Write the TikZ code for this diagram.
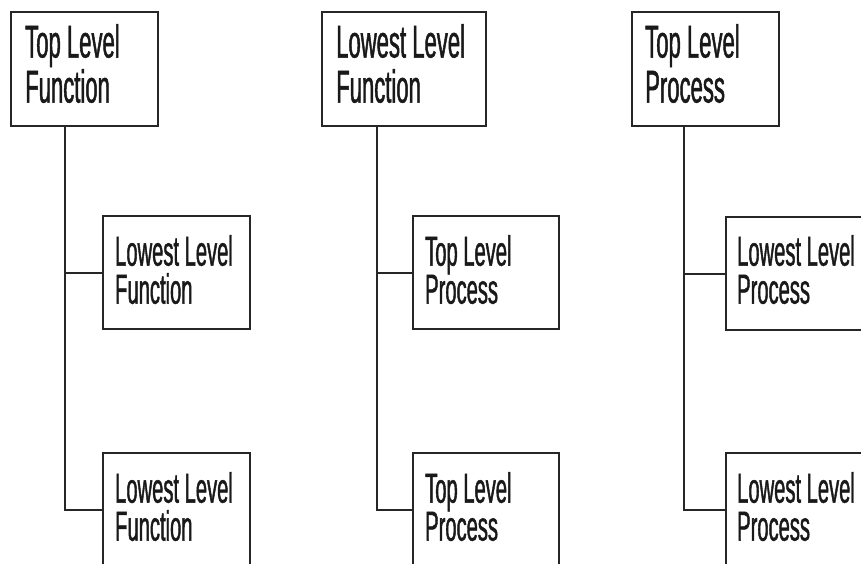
\documentclass[tikz,border=0pt]{standalone}
\usepackage{fontspec}
\setmainfont{Liberation Sans}[FakeStretch=0.48, FakeBold=1.0]
\begin{document}
\begin{tikzpicture}[x=1pt,y=-1pt,
  box/.style={draw=black!85, line width=2pt, rectangle, inner sep=0pt,
              outer sep=0pt, anchor=north west},
  toplbl/.style={anchor=north west, inner sep=0pt, align=left,
                 font=\fontsize{46}{45}\selectfont, text=black!90},
  sublbl/.style={anchor=north west, inner sep=0pt, align=left,
                 font=\fontsize{42}{38}\selectfont, text=black!90},
  link/.style={draw=black!85, line width=2pt}]
\useasboundingbox (0,0) rectangle (861,563);
\clip (0,0) rectangle (861,563);

% column 1
\node[box, minimum width=147pt, minimum height=114pt] (t1) at (11,12) {};
\node[toplbl] (t1txt) at ([shift={(14,12)}]t1.north west) {Top Level\\Function};
\node[box, minimum width=147pt, minimum height=113pt] (c11) at (103,216) {};
\node[sublbl] (c11txt) at ([shift={(12,19)}]c11.north west) {Lowest Level\\Function};
\node[box, minimum width=147pt, minimum height=113pt] (c12) at (103,453) {};
\node[sublbl] (c12txt) at ([shift={(12,19)}]c12.north west) {Lowest Level\\Function};
\coordinate (k1) at ([xshift=54pt]t1.south west);
\draw[link] (k1) |- (c12.west);
\draw[link] (c11.west) -- (c11.west -| k1);

% column 2
\node[box, minimum width=164pt, minimum height=114pt] (t2) at (322,12) {};
\node[toplbl] (t2txt) at ([shift={(14,12)}]t2.north west) {Lowest Level\\Function};
\node[box, minimum width=146pt, minimum height=113pt] (c21) at (413,216) {};
\node[sublbl] (c21txt) at ([shift={(12,19)}]c21.north west) {Top Level\\Process};
\node[box, minimum width=146pt, minimum height=113pt] (c22) at (413,453) {};
\node[sublbl] (c22txt) at ([shift={(12,19)}]c22.north west) {Top Level\\Process};
\coordinate (k2) at ([xshift=55pt]t2.south west);
\draw[link] (k2) |- (c22.west);
\draw[link] (c21.west) -- (c21.west -| k2);

% column 3
\node[box, minimum width=147pt, minimum height=114pt] (t3) at (632,12) {};
\node[toplbl] (t3txt) at ([shift={(13,12)}]t3.north west) {Top Level\\Process};
\node[box, minimum width=147pt, minimum height=113pt] (c31) at (726,217) {};
\node[sublbl] (c31txt) at ([shift={(11,18)}]c31.north west) {Lowest Level\\Process};
\node[box, minimum width=147pt, minimum height=113pt] (c32) at (726,453) {};
\node[sublbl] (c32txt) at ([shift={(11,19)}]c32.north west) {Lowest Level\\Process};
\coordinate (k3) at ([xshift=52pt]t3.south west);
\draw[link] (k3) |- (c32.west);
\draw[link] (c31.west) -- (c31.west -| k3);
\end{tikzpicture}
\end{document}
